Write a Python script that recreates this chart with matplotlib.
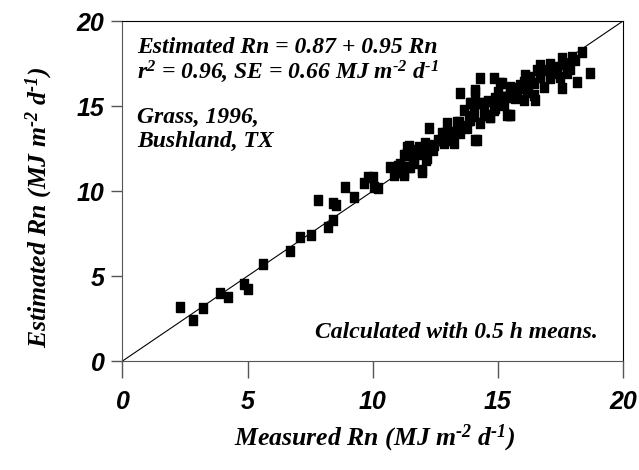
import numpy as np
import matplotlib
matplotlib.use('Agg')
import matplotlib.pyplot as plt
from matplotlib.path import Path

plt.rcParams['mathtext.fontset'] = 'custom'
plt.rcParams['mathtext.rm'] = 'Liberation Serif:italic:bold'
plt.rcParams['mathtext.it'] = 'Liberation Serif:italic:bold'
plt.rcParams['mathtext.bf'] = 'Liberation Serif:italic:bold'

# measured vs estimated net radiation
measured = [2.30, 2.81, 3.21, 3.90, 4.21, 4.86, 5.01, 5.61, 6.70, 7.10, 7.53,
            8.21, 8.43, 7.82, 8.43, 8.54, 8.90, 9.26, 9.66, 9.79, 10.00, 10.03, 10.20,
            10.70, 11.03, 10.83, 11.23, 11.43, 11.30, 11.83, 11.63, 11.97, 12.14, 11.43,
            13.50, 14.10, 13.93, 14.30, 13.63, 14.97, 15.23, 14.83, 14.50, 15.37,
            12.23, 12.97, 12.77, 13.37, 13.83, 13.50, 13.10, 13.23, 12.83, 14.10,
            12.43, 12.10, 11.37, 11.77, 11.23, 11.63, 12.17, 11.17, 11.50, 11.97, 11.23,
            14.30, 14.83, 14.10, 15.10, 15.50, 15.90, 16.10, 13.90, 14.30, 15.03,
            15.37, 15.77, 14.03, 14.43, 15.50, 15.23, 13.43, 13.90, 14.30, 14.70,
            12.90, 13.30, 13.77, 14.17, 13.17,
            18.37, 17.97, 17.57, 18.70, 18.17, 17.57, 16.70, 17.10, 17.37, 17.83,
            18.10, 16.57, 16.97, 17.37, 17.77, 16.30, 16.70, 17.10, 17.50, 16.03,
            16.43, 16.83, 15.17, 15.50, 15.83, 16.17, 16.50, 16.43, 14.90, 15.30,
            15.70, 16.03, 14.90, 15.50, 14.70,
            16.70, 17.30, 17.90, 17.60, 16.20, 15.70, 15.00, 14.60, 14.00, 13.60,
            12.60, 12.40, 12.00, 11.60, 11.00, 10.90, 11.10, 11.90, 12.30, 13.00]
estimated = [3.16, 2.41, 3.10, 4.02, 3.75, 4.53, 4.22, 5.69, 6.45, 7.28, 7.43,
             7.90, 8.29, 9.47, 9.28, 9.16, 10.22, 9.67, 10.45, 10.80, 10.80, 10.25, 10.16,
             11.43, 11.14, 10.94, 11.04, 12.65, 12.12, 12.60, 11.63, 11.14, 11.82, 11.43,
             15.78, 15.84, 15.16, 15.16, 14.76, 15.35, 15.55, 14.76, 14.47, 14.47,
             13.69, 13.98, 13.39, 14.08, 14.18, 13.39, 13.19, 12.80, 12.80, 13.00,
             12.70, 12.80, 12.60, 12.41, 12.12, 11.92, 11.92, 11.43, 11.43, 11.24, 10.94,
             16.63, 16.63, 15.94, 16.33, 16.04, 16.24, 16.82, 15.16, 15.16, 15.35,
             15.55, 15.75, 14.66, 14.66, 14.47, 15.06, 14.08, 14.18, 13.98, 14.37,
             13.39, 13.49, 13.69, 13.00, 13.00,
             18.20, 17.90, 17.80, 16.92, 16.43, 16.04, 17.41, 17.50, 17.31, 17.41,
             17.70, 17.12, 17.12, 16.92, 16.92, 16.72, 16.72, 16.63, 16.72, 16.43,
             16.33, 16.14, 16.33, 16.14, 16.04, 15.84, 15.35, 15.65, 15.45, 15.55,
             15.45, 15.35, 14.86, 14.47, 14.37,
             16.90, 17.00, 17.20, 17.50, 16.20, 15.90, 15.80, 15.30, 14.40, 13.80,
             13.00, 12.40, 12.20, 12.00, 11.50, 11.20, 11.60, 12.30, 12.60, 13.40]

ticks = [0, 5, 10, 15, 20]

box = Path([(-0.4, -0.5), (0.4, -0.5), (0.4, 0.5), (-0.4, 0.5), (-0.4, -0.5)],
           [Path.MOVETO, Path.LINETO, Path.LINETO, Path.LINETO, Path.CLOSEPOLY])

fig = plt.figure(figsize=(6.39, 4.70), dpi=100)
ax = fig.add_axes([0.1917, 0.2319, 0.7833, 0.7234])

ax.plot([0, 20], [0, 20], color='black', lw=0.8, zorder=1)
ax.plot(measured, estimated, linestyle='none', marker=box, markersize=7.2,
        color='black', zorder=2)

ax.set_xlim(0, 20)
ax.set_ylim(0, 20)
ax.set_xticks(ticks)
ax.set_yticks(ticks)

tickfont = dict(family='Liberation Sans', weight='bold', style='italic', size=18)
ax.set_xticklabels([str(t) for t in ticks], **tickfont)
ax.set_yticklabels([str(t) for t in ticks], **tickfont)
ax.tick_params(axis='x', direction='out', length=12, width=1, color='#555555', pad=9)
ax.tick_params(axis='y', direction='out', length=8, width=1, color='#555555', pad=5)

for s in ['left', 'bottom']:
    ax.spines[s].set_color('#555555')
for s in ['top', 'right']:
    ax.spines[s].set_color('black')

hy = '\u2010'
labfont = dict(family='Liberation Serif', weight='bold', style='italic', size=18.5)
ax.set_xlabel('Measured Rn (MJ m$^{' + hy + '2}$ d$^{' + hy + '1}$)', **labfont)
ax.set_ylabel('Estimated Rn (MJ m$^{' + hy + '2}$ d$^{' + hy + '1}$)', **labfont)
ax.xaxis.set_label_coords(0.504, -0.18)
ax.yaxis.set_label_coords(-0.135, 0.453)

txtfont = dict(family='Liberation Serif', weight='bold', style='italic', size=17)
ax.text(0.58, 18.47, 'Estimated Rn = 0.87 + 0.95 Rn', va='center', ha='left', **txtfont)
ax.text(0.58, 17.0, 'r$^{2}$ = 0.96, SE = 0.66 MJ m$^{' + hy + '2}$ d$^{' + hy + '1}$',
        va='center', ha='left', **txtfont)
ax.text(0.58, 14.3, 'Grass, 1996,', va='center', ha='left', **txtfont)
ax.text(0.58, 12.9, 'Bushland, TX', va='center', ha='left', **txtfont)
ax.text(18.98, 1.65, 'Calculated with 0.5 h means.', va='center', ha='right', **txtfont)

fig.savefig('out.png', dpi=100)
